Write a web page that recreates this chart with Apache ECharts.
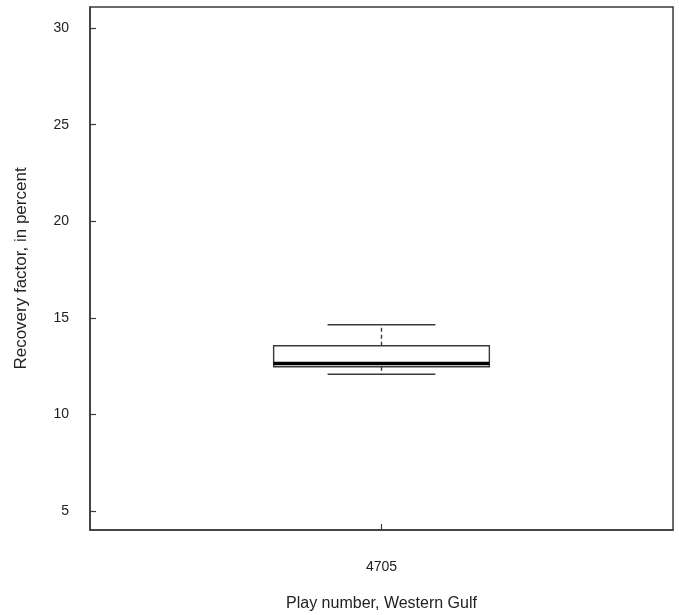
<!DOCTYPE html>
<html>
<head>
<meta charset="utf-8">
<script src="https://cdn.jsdelivr.net/npm/echarts@6/dist/echarts.min.js"></script>
<style>
  html, body { margin: 0; padding: 0; background: #fff; }
  #chart { width: 679px; height: 615px; }
</style>
</head>
<body>
<div id="chart"></div>
<script>
// Recovery factor distribution by play
const categories = ['4705'];
// [lower whisker, lower quartile, median, upper quartile, upper whisker]
const boxStats = [[12.08, 12.47, 12.64, 13.56, 14.64]];
const yTicks = [5, 10, 15, 20, 25, 30];

const chart = echarts.init(document.getElementById('chart'));

const lineColor = '#3a3a3a';

function renderBox(params, api) {
  const idx = api.value(0);
  const lo = api.value(1), q1 = api.value(2), med = api.value(3), q3 = api.value(4), hi = api.value(5);
  const band = api.size([1, 0])[0];
  const halfBox = band * 0.185;
  const halfCap = halfBox / 2;
  const pLo = api.coord([idx, lo]);
  const pQ1 = api.coord([idx, q1]);
  const pMed = api.coord([idx, med]);
  const pQ3 = api.coord([idx, q3]);
  const pHi = api.coord([idx, hi]);
  const cx = pMed[0];
  const thin = { stroke: lineColor, lineWidth: 1.4, fill: null };
  const dashed = { stroke: lineColor, lineWidth: 1.4, lineDash: [4, 3] };
  return {
    type: 'group',
    children: [
      { type: 'line', shape: { x1: cx, y1: pQ3[1], x2: cx, y2: pHi[1] }, style: dashed },
      { type: 'line', shape: { x1: cx, y1: pQ1[1], x2: cx, y2: pLo[1] }, style: dashed },
      { type: 'line', shape: { x1: cx - halfCap, y1: pHi[1], x2: cx + halfCap, y2: pHi[1] }, style: thin },
      { type: 'line', shape: { x1: cx - halfCap, y1: pLo[1], x2: cx + halfCap, y2: pLo[1] }, style: thin },
      { type: 'rect', shape: { x: cx - halfBox, y: pQ3[1], width: halfBox * 2, height: pQ1[1] - pQ3[1] },
        style: { stroke: lineColor, lineWidth: 1.4, fill: '#fff' } },
      { type: 'line', shape: { x1: cx - halfBox, y1: pMed[1], x2: cx + halfBox, y2: pMed[1] },
        style: { stroke: '#000', lineWidth: 3.5 } }
    ]
  };
}

chart.setOption({
  animation: false,
  backgroundColor: '#fff',
  textStyle: { fontFamily: 'Liberation Sans, Arial, sans-serif' },
  grid: {
    left: 90, right: 6, top: 7, bottom: 85,
    outerBoundsMode: 'none',
    containLabel: false,
    show: true, borderColor: lineColor, borderWidth: 1.5, backgroundColor: 'transparent'
  },
  xAxis: {
    type: 'category',
    data: categories,
    boundaryGap: true,
    name: 'Play number, Western Gulf',
    nameLocation: 'middle',
    nameGap: 66,
    nameTextStyle: { fontSize: 16, color: '#222' },
    axisLine: { show: true, lineStyle: { color: lineColor, width: 1.5 } },
    axisTick: { show: true, inside: true, alignWithLabel: true, length: 6, lineStyle: { color: lineColor, width: 1.2 } },
    axisLabel: { fontSize: 14, color: '#222', margin: 30 },
    splitLine: { show: false }
  },
  yAxis: {
    type: 'value',
    min: 4.02,
    max: 31.09,
    name: 'Recovery factor, in percent',
    nameLocation: 'middle',
    nameGap: 60,
    nameTextStyle: { fontSize: 17, color: '#222' },
    axisLine: { show: true, lineStyle: { color: lineColor, width: 1.5 } },
    axisTick: { show: true, inside: true, length: 6, customValues: yTicks, lineStyle: { color: lineColor, width: 1.2 } },
    axisLabel: { fontSize: 14, color: '#222', margin: 21, customValues: yTicks },
    splitLine: { show: false }
  },
  series: [{
    type: 'custom',
    renderItem: renderBox,
    encode: { x: 0, y: [1, 2, 3, 4, 5] },
    data: boxStats.map((s, i) => [i].concat(s))
  }]
});
</script>
</body>
</html>
